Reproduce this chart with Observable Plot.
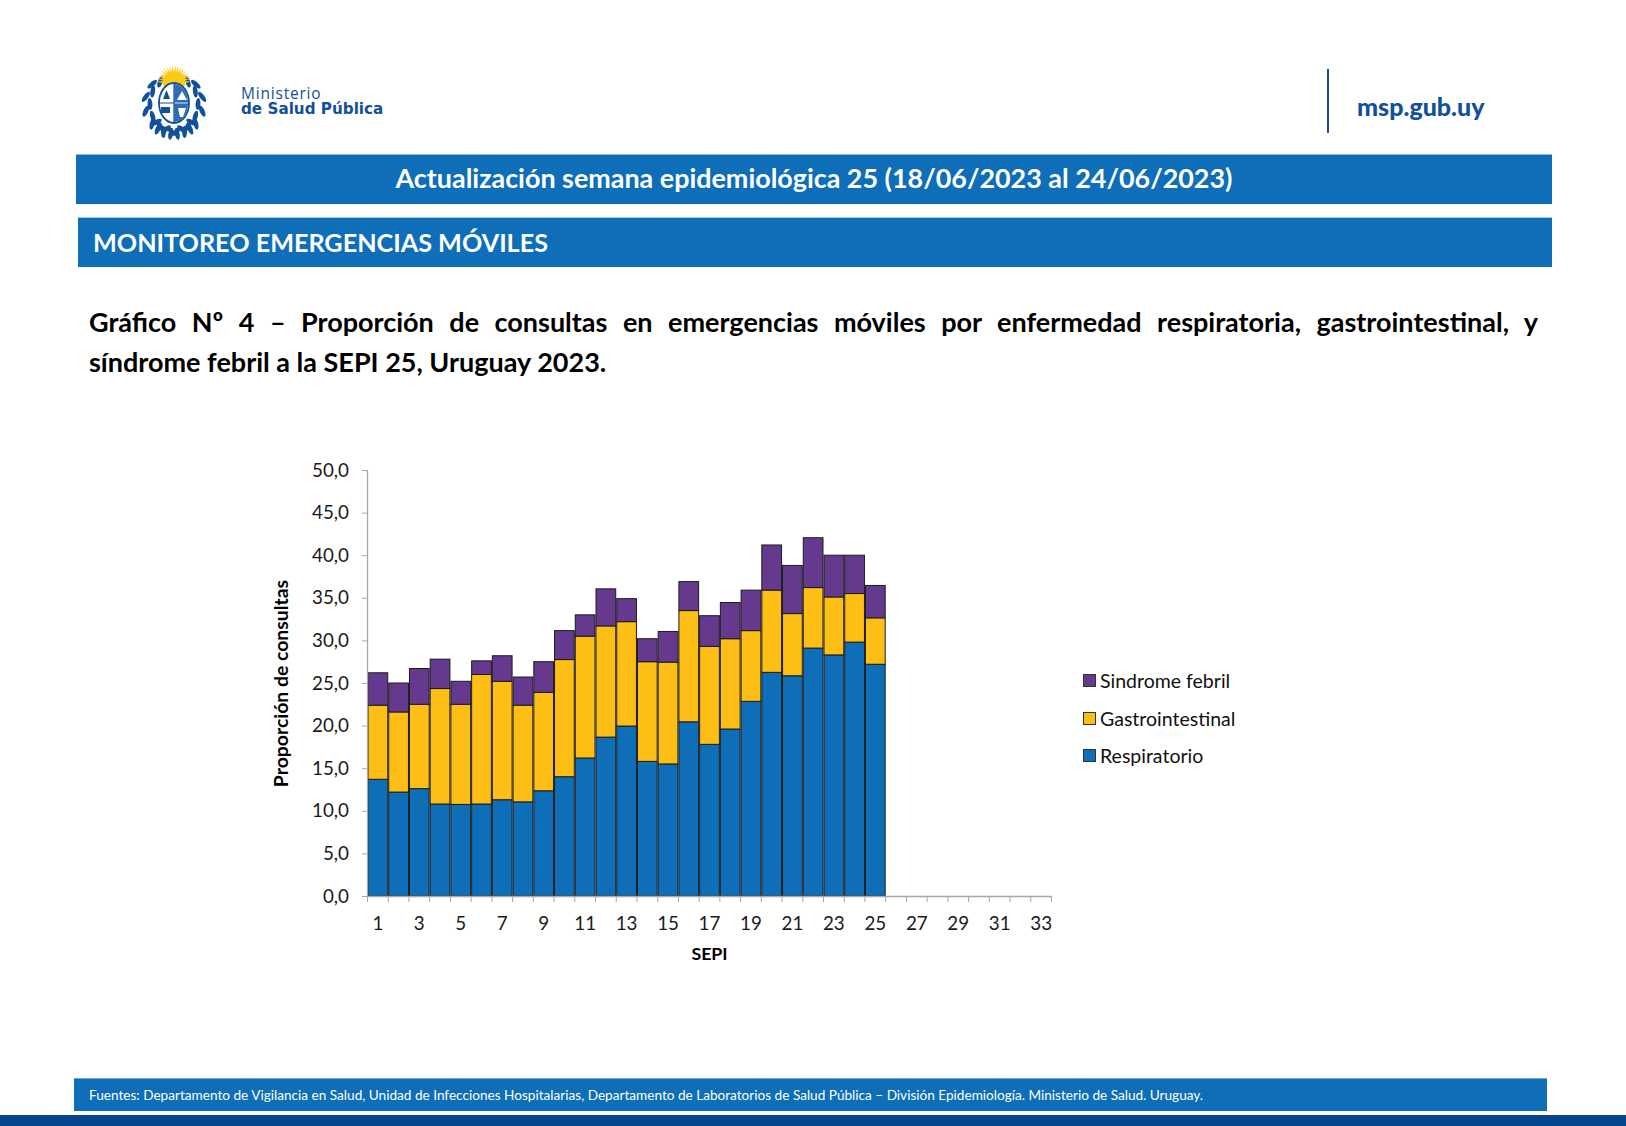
<!DOCTYPE html>
<html lang="es">
<head>
<meta charset="utf-8">
<script src="https://cdn.jsdelivr.net/npm/d3@7"></script>
<script src="https://cdn.jsdelivr.net/npm/@observablehq/plot@0.6"></script>
<style>
html,body{margin:0;padding:0;background:#fff;}
#page{position:relative;width:1626px;height:1126px;overflow:hidden;font-family:Lato,"Open Sans",sans-serif;color:#000;}
.abs{position:absolute;}
.band{background:#0e6eb8;color:#fff;font-weight:700;box-sizing:border-box;white-space:nowrap;}
#b1{left:76px;top:153.5px;width:1476px;height:50px;line-height:46px;text-align:center;font-size:26.9px;border-top:1px solid #8fb4da;}
#b2{left:78px;top:216.5px;width:1474px;height:50px;line-height:48px;padding-left:15px;font-size:25.2px;border-top:1px solid #a9c6e4;}
#head{left:89px;top:302px;width:1449px;font-weight:700;font-size:27px;line-height:40px;}
#head div:first-child{text-align:justify;text-align-last:justify;}
#foot{left:74px;top:1078px;width:1473px;height:33px;line-height:33px;padding-left:15px;background:#0e6eb8;color:#fff;font-size:13.6px;white-space:nowrap;box-sizing:border-box;border-top:1px solid #6f9fd6;}
#bottom{left:0;top:1115px;width:1626px;height:11px;background:#04478f;}
#mint{left:241px;top:85.6px;color:#12509a;line-height:15.6px;white-space:nowrap;font-family:"Open Sans",sans-serif;font-size:15.5px;}
#mint .a{letter-spacing:.8px;}
#mint .b{font-family:"DejaVu Sans",sans-serif;font-size:15.2px;font-weight:700;}
#sep{left:1327px;top:69px;width:2px;height:64px;background:#12509a;}
#msp{left:1357px;top:91px;font-size:25px;font-weight:900;color:#12509a;line-height:30px;}
#chart{left:240px;top:440px;}
.leg{left:1083px;height:15px;display:flex;align-items:center;font-size:19.5px;color:#111;white-space:nowrap;}
.leg i{display:block;width:11px;height:11px;border:1.5px solid #333;margin-right:4px;}
</style>
</head>
<body>
<div id="page">
  <svg class="abs" style="left:136px;top:62px" width="76" height="78" viewBox="0 0 76 78" id="logo"></svg>
  <div class="abs" id="mint"><span class="a">Ministerio</span><br><span class="b">de Salud Pública</span></div>
  <div class="abs" id="sep"></div>
  <div class="abs" id="msp">msp.gub.uy</div>
  <div class="abs band" id="b1">Actualización semana epidemiológica 25 (18/06/2023 al 24/06/2023)</div>
  <div class="abs band" id="b2">MONITOREO EMERGENCIAS MÓVILES</div>
  <div class="abs" id="head"><div>Gráfico Nº 4 – Proporción de consultas en emergencias móviles por enfermedad respiratoria, gastrointestinal, y</div><div>síndrome febril a la SEPI 25, Uruguay 2023.</div></div>
  <div class="abs" id="chart"></div>
  <div class="abs leg" style="top:673px"><i style="background:#65398e"></i>Sindrome febril</div>
  <div class="abs leg" style="top:711px"><i style="background:#fdbf15"></i>Gastrointestinal</div>
  <div class="abs leg" style="top:748px"><i style="background:#0e6eb8"></i>Respiratorio</div>
  <div class="abs" id="foot">Fuentes: Departamento de Vigilancia en Salud, Unidad de Infecciones Hospitalarias, Departamento de Laboratorios de Salud Pública – División Epidemiología. Ministerio de Salud. Uruguay.</div>
  <div class="abs" id="bottom"></div>
</div>
<script>
const sepi = d3.range(1, 26);
const respiratorio = [13.7,12.2,12.6,10.8,10.75,10.8,11.3,11.05,12.35,14.0,16.2,18.65,19.95,15.8,15.5,20.45,17.8,19.6,22.85,26.25,25.85,29.1,28.3,29.8,27.2];
const gastrointestinal = [8.7,9.4,9.9,13.55,11.75,15.2,13.9,11.35,11.55,13.75,14.3,13.05,12.25,11.7,11.95,13.05,11.5,10.6,8.3,9.65,7.3,7.1,6.8,5.7,5.45];
const febril = [3.8,3.4,4.2,3.45,2.7,1.6,3.0,3.3,3.6,3.4,2.5,4.35,2.7,2.7,3.6,3.4,3.6,4.25,4.75,5.3,5.65,5.85,4.9,4.5,3.8];
const categories = ["Respiratorio","Gastrointestinal","Sindrome febril"];
const colors = ["#0e6eb8","#fdbf15","#65398e"];
const yTicks = [0,5,10,15,20,25,30,35,40,45,50];
const xLabels = d3.range(1, 34, 2);
const xEdges = d3.range(1, 35);

const rows = [respiratorio, gastrointestinal, febril].flatMap((vals, i) =>
  vals.map((v, j) => ({sepi: sepi[j], cat: categories[i], v})));

const axisGray = "#a8a8a8";
const textCol = "#1a1a1a";
const plot = Plot.plot({
  width: 840, height: 520,
  marginLeft: 127, marginRight: 29, marginTop: 30, marginBottom: 64,
  style: {fontFamily: "Lato, sans-serif", background: "transparent", overflow: "visible"},
  x: {type: "linear", domain: [1, 34]},
  y: {domain: [0, 50]},
  color: {domain: categories, range: colors},
  marks: [
    Plot.rectY(rows, Plot.stackY({x: "sepi", y: "v", fill: "cat", order: categories, interval: 1, stroke: "#1c1c1c", strokeWidth: 1})),
    Plot.ruleX([1], {stroke: axisGray, strokeWidth: 1.3}),
    Plot.ruleY([0], {stroke: axisGray, strokeWidth: 1.3}),
    Plot.axisX({ticks: xEdges, tickSize: 6, tickFormat: () => "", stroke: axisGray, label: null}),
    Plot.axisX({ticks: xLabels.map(d => d + 0.5), tickSize: 0, tickPadding: 20, tickFormat: d => String(d - 0.5), fontSize: 18.8, fill: textCol, label: null}),
    Plot.axisY({ticks: yTicks, tickSize: 5, tickPadding: 13.5, stroke: axisGray, fill: textCol, fontSize: 18.8, label: null, tickFormat: d => d.toFixed(1).replace(".", ",")}),
    Plot.text(["Proporción de consultas"], {frameAnchor: "left", textAnchor: "middle", rotate: -90, dx: -86, fontSize: 19.4, fontWeight: 700, fill: "#000"}),
    Plot.text(["SEPI"], {frameAnchor: "bottom", dy: 63, fontSize: 17.8, fontWeight: 700, fill: "#000"})
  ]
});
document.getElementById("chart").append(plot);

/* decorative crest */
const logo = d3.select("#logo");
for (const side of [-1, 1]) for (let t = 0; t < 15; t++) {
  const ang = (t - 4) * 0.24, x = 38 + side * (24 + (t % 2) * 5) * Math.cos(ang), y = 42 + (27 + (t % 2) * 3) * Math.sin(ang);
  logo.append("ellipse").attr("cx",x).attr("cy",y).attr("rx",6).attr("ry",2.4).attr("fill","#12509a")
    .attr("transform",`rotate(${side * (t % 2 ? 35 : 70) + side * t * 6} ${x} ${y})`);
}
for (let a = -85; a <= 85; a += 10) {
  logo.append("path").attr("d", "M-2.4,0 L0,-18 L2.4,0Z").attr("fill", "#fdc915").attr("transform", `translate(38,21) rotate(${a})`);
}
logo.append("circle").attr("cx",38).attr("cy",21).attr("r",11).attr("fill","#fdc915");
logo.append("ellipse").attr("cx",38).attr("cy",41).attr("rx",15).attr("ry",20).attr("fill","#fff").attr("stroke","#12509a").attr("stroke-width",1.8);
logo.append("path").attr("d","M38,21 V61 M23,41 H53").attr("stroke","#12509a").attr("stroke-width",1.2);
logo.append("path").attr("d","M38,22 A14,19 0 0 1 52,40 H38Z M38,42 H52 A14,19 0 0 1 38,60Z").attr("fill","#2f6db3");
logo.append("path").attr("d","M27,37 L34,37 L30.5,28Z M25,45 h9 v6 h-9Z").attr("fill","#12509a");
logo.append("path").attr("d","M41,38 h10 l-5,-9Z M42,46 h8 l-3,9 h-3Z").attr("fill","#fff");
</script>
</body>
</html>
